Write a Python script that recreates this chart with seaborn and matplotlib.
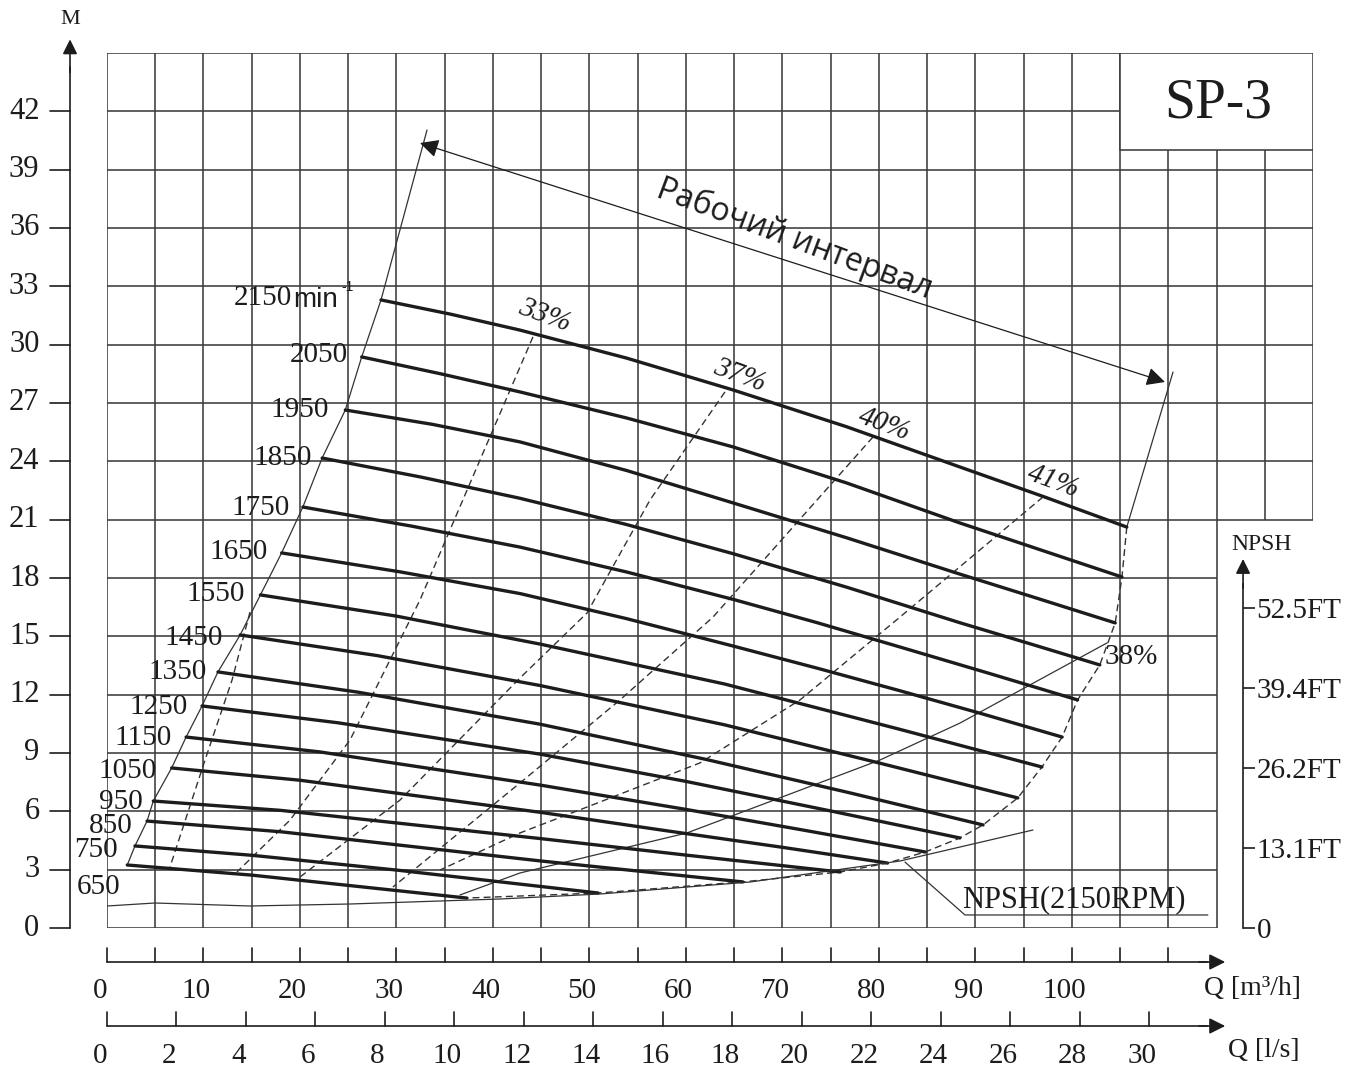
import numpy as np
import pandas as pd
import matplotlib
matplotlib.use("Agg")
import matplotlib.pyplot as plt
import seaborn as sns
from matplotlib.patches import Rectangle

sns.set_theme(style="white")
plt.rcParams['font.family'] = ['Liberation Serif', 'DejaVu Serif']

# ---------------- data ----------------
speeds = [2150, 2050, 1950, 1850, 1750, 1650, 1550, 1450,
          1350, 1250, 1150, 1050, 950, 850, 750, 650]

# head curves: flow Q [m3/h], head H [m]
curve_q = {
    2150: [28.4, 35.6, 42.8, 53.85, 64.9, 76.65, 88.4, 97.05, 105.7],
    2050: [26.4, 34.6, 42.8, 53.85, 64.9, 76.65, 88.4, 96.8, 105.2],
    1950: [24.7, 33.75, 42.8, 53.85, 64.9, 76.65, 88.4, 96.45, 104.5],
    1850: [22.3, 32.55, 42.8, 53.85, 64.9, 76.65, 88.4, 95.65, 102.9],
    1750: [20.3, 31.55, 42.8, 53.85, 64.9, 73.55, 82.2, 91.4, 100.6],
    1650: [18.1, 30.45, 42.8, 53.85, 64.9, 73.55, 82.2, 90.6, 99.0],
    1550: [15.9, 30.0, 44.9, 64.0, 82.0, 96.9],
    1450: [13.8, 28.0, 44.9, 64.0, 80.0, 94.4],
    1350: [11.5, 26.0, 44.9, 62.0, 77.0, 90.8],
    1250: [9.85, 24.0, 44.9, 60.0, 75.0, 88.4],
    1150: [8.2, 22.0, 44.9, 60.0, 72.0, 84.8],
    1050: [6.7, 20.0, 44.9, 58.0, 70.0, 80.9],
    950:  [4.8, 18.0, 44.9, 60.0, 76.0],
    850:  [4.15, 18.0, 44.9, 65.9],
    750:  [2.9, 15.0, 30.0, 50.9],
    650:  [2.1, 15.0, 37.3],
}
curve_h = {
    2150: [32.3, 31.57, 30.75, 29.31, 27.67, 25.78, 23.71, 22.19, 20.62],
    2050: [29.37, 28.50, 27.57, 26.23, 24.74, 22.89, 20.83, 19.44, 18.05],
    1950: [26.64, 25.90, 25.0, 23.53, 21.86, 20.07, 18.2, 16.95, 15.69],
    1850: [24.17, 23.19, 22.1, 20.75, 19.25, 17.53, 15.7, 14.62, 13.53],
    1750: [21.65, 20.67, 19.59, 18.31, 16.9, 15.71, 14.45, 13.10, 11.73],
    1650: [19.29, 18.31, 17.2, 15.91, 14.5, 13.37, 12.2, 11.03, 9.82],
    1550: [17.13, 16.04, 14.6, 12.55, 10.24, 8.28],
    1450: [15.07, 14.01, 12.47, 10.45, 8.49, 6.69],
    1350: [13.17, 12.13, 10.48, 8.68, 6.95, 5.30],
    1250: [11.42, 10.55, 8.94, 7.54, 6.02, 4.63],
    1150: [9.82, 9.06, 7.35, 6.1, 5.05, 3.91],
    1050: [8.23, 7.6, 5.95, 5.0, 4.15, 3.34],
    950:  [6.53, 6.05, 4.6, 3.75, 2.88],
    850:  [5.5, 4.95, 3.45, 2.37],
    750:  [4.22, 3.74, 2.98, 1.80],
    650:  [3.24, 2.72, 1.54],
}

# efficiency iso-lines
eff_names = ["33%", "37%", "40%", "41%"]
eff_q = {
    "base": [14.82, 12.96, 10.16, 6.53],
    "33%": [44.15, 38.66, 32.44, 25.19, 18.97, 13.47],
    "37%": [64.05, 56.28, 49.75, 42.81, 30.37, 20.0],
    "40%": [79.39, 62.81, 53.17, 42.81, 29.64],
    "41%": [97.02, 82.19, 71.83, 61.46, 49.75, 42.81, 34.51],
}
eff_h = {
    "base": [16.25, 12.75, 8.64, 3.14],
    "33%": [30.40, 24.07, 16.87, 9.67, 5.55, 2.88],
    "37%": [27.57, 22.01, 16.20, 12.86, 6.58, 2.62],
    "40%": [25.25, 15.99, 11.73, 7.46, 2.11],
    "41%": [22.17, 15.99, 11.73, 8.49, 6.22, 4.89, 2.98],
}
eff38_q = [103.65, 88.41, 80.12, 60.12, 42.81, 36.59]
eff38_h = [14.66, 10.54, 8.64, 4.89, 2.83, 1.70]

# NPSH at 2150 rpm, metres
npsh_q = [0, 4.98, 14.82, 25.19, 40.73, 51.10, 66.65, 82.19, 95.98]
npsh_m = [1.10, 1.25, 1.10, 1.20, 1.45, 1.70, 2.30, 3.35, 4.90]

# operating range envelope
left_top = (33.17, 41.04)
right_top = (110.49, 28.59)

q_ticks = list(range(0, 101, 10))
ls_ticks = list(range(0, 31, 2))
h_ticks = list(range(0, 43, 3))
npsh_ticks = [0, 4, 8, 12, 16]
npsh_labels = ["0", "13.1FT", "26.2FT", "39.4FT", "52.5FT"]

# ---------------- figure ----------------
fig = plt.figure(figsize=(13.72, 10.75), dpi=100)
ax = fig.add_axes([107 / 1372, 1 - 928 / 1075, 1206 / 1372, 875 / 1075])
ax.set_xlim(0, 125)
ax.set_ylim(0, 45)
ax.axis('off')

GRID = '#3c3c3c'
INK = '#1c1c1c'
THIN = '#333333'
glw = 1.15

# grid
for q in range(0, 106, 5):
    ax.vlines(q, 0, 45, color=GRID, lw=glw, zorder=1)
for q in (110, 115):
    ax.vlines(q, 0, 40, color=GRID, lw=glw, zorder=1)
ax.vlines(120, 21, 40, color=GRID, lw=glw, zorder=1)
ax.vlines(125, 21, 45, color=GRID, lw=glw, zorder=1)
for h in range(0, 19, 3):
    ax.hlines(h, 0, 115, color=GRID, lw=glw, zorder=1)
for h in range(21, 40, 3):
    ax.hlines(h, 0, 125, color=GRID, lw=glw, zorder=1)
ax.hlines(42, 0, 105, color=GRID, lw=glw, zorder=1)
ax.hlines(45, 0, 125, color=GRID, lw=glw, zorder=1)
ax.add_patch(Rectangle((105, 40), 20, 5, fc='white', ec=GRID, lw=glw, zorder=2))
ax.text(115.2, 42.4, "SP-3", fontsize=40, ha='center', va='center', color=INK, zorder=3)

# head curves
rows = []
for s in speeds:
    for q, h in zip(curve_q[s], curve_h[s]):
        rows.append((s, q, h))
df = pd.DataFrame(rows, columns=["speed", "Q", "H"])
sns.lineplot(data=df, x="Q", y="H", units="speed", estimator=None, sort=False,
             color=INK, lw=2.4, ax=ax, legend=False, zorder=4)
for line in ax.lines:
    line.set_solid_joinstyle('round')

# efficiency lines
erows = []
for k in eff_q:
    for q, h in zip(eff_q[k], eff_h[k]):
        erows.append((k, q, h))
edf = pd.DataFrame(erows, columns=["eff", "Q", "H"])
sns.lineplot(data=edf, x="Q", y="H", units="eff", estimator=None, sort=False,
             color=THIN, lw=1.0, ax=ax, legend=False, zorder=3,
             dashes=False, linestyle=(0, (5, 3)))
sns.lineplot(x=eff38_q, y=eff38_h, sort=False, color=THIN, lw=0.9, ax=ax, zorder=3)

# envelope of the working range
lq = [left_top[0]] + [curve_q[s][0] for s in speeds]
lh = [left_top[1]] + [curve_h[s][0] for s in speeds]
ax.plot(lq, lh, color=THIN, lw=0.9, zorder=3)
ax.plot([right_top[0], curve_q[2150][-1]], [right_top[1], curve_h[2150][-1]],
        color=THIN, lw=0.9, zorder=3)
rq = [curve_q[s][-1] for s in speeds]
rh = [curve_h[s][-1] for s in speeds]
ax.plot(rq, rh, color=THIN, lw=1.0, ls=(0, (5, 3)), zorder=3)

# speed labels
lab_pos = {2150: (19.17, 32.40), 2050: (24.98, 29.47), 1950: (23.01, 26.64),
           1850: (21.25, 24.17), 1750: (18.97, 21.60), 1650: (16.69, 19.34),
           1550: (14.30, 17.18), 1450: (12.02, 14.91), 1350: (10.36, 13.17),
           1250: (8.40, 11.37), 1150: (6.74, 9.77), 1050: (5.18, 8.07),
           950: (3.73, 6.48), 850: (2.69, 5.25), 750: (1.14, 4.01), 650: (1.35, 2.11)}
for s in speeds:
    x, y = lab_pos[s]
    ax.text(x, y, str(s), fontsize=21, ha='right', va='center', color=INK, zorder=5)
ax.text(19.3, 32.3, "min", fontsize=20, ha='left', va='center', color=INK,
        family=['Liberation Sans', 'DejaVu Sans'], zorder=5)
ax.text(24.25, 32.95, "-1", fontsize=10, ha='left', va='center', color=INK,
        family=['Liberation Sans', 'DejaVu Sans'], zorder=5)

# efficiency labels
for txt, (x, y) in zip(eff_names, [(45.4, 31.5), (65.6, 28.4), (80.6, 25.9), (98.05, 22.94)]):
    ax.text(x, y, txt, fontsize=21, style='italic', rotation=-20, ha='center',
            va='center', color=INK, zorder=5)
ax.text(106.2, 13.94, "38%", fontsize=21, ha='center', va='center', color=INK, zorder=5)

# working range arrow
ax.annotate('', xy=(109.66, 28.08), xytext=(32.44, 40.37),
            arrowprops=dict(arrowstyle='<|-|>', color=INK, lw=0.9,
                            mutation_scale=28, shrinkA=0, shrinkB=0), zorder=5)
ax.text(71.3, 35.4, "Рабочий интервал", fontsize=23, rotation=-20.5,
        rotation_mode='anchor', ha='center', va='center', color=INK,
        family=['Open Sans', 'DejaVu Sans'], zorder=5)

# NPSH curve on its own scale
ax2 = ax.twinx()
ax2.set_ylim(0, 43.75)
ax2.set_xlim(0, 125)
sns.lineplot(x=npsh_q, y=npsh_m, sort=False, color=THIN, lw=0.9, ax=ax2)
for s in ['left', 'top', 'bottom']:
    ax2.spines[s].set_visible(False)
ax2.spines['right'].set_position(('data', 117.75))
ax2.spines['right'].set_bounds(0, 17.2)
ax2.spines['right'].set_color(INK)
ax2.spines['right'].set_linewidth(1.2)
ax2.set_yticks(npsh_ticks)
ax2.set_yticklabels(npsh_labels)
ax2.tick_params(axis='y', direction='out', length=8.6, width=1.2, pad=1,
                labelsize=21, colors=INK, right=True, left=False)
ax2.set_ylabel("")
ax2.set_xlabel("")
ax2.annotate('', xy=(117.75, 18.45), xytext=(117.75, 17.0),
             arrowprops=dict(arrowstyle='-|>', color=INK, lw=1.2, mutation_scale=22,
                             shrinkA=0, shrinkB=0), annotation_clip=False)
ax.text(119.7, 19.7, "NPSH", fontsize=17, ha='center', va='center', color=INK)

# NPSH leader
ax.plot([82.71, 88.93, 114.1], [3.39, 0.67, 0.67], color=THIN, lw=0.9, zorder=3)
ax.text(88.6, 1.44, "NPSH(2150RPM)", fontsize=22, ha='left', va='center', color=INK, zorder=5)

# left head axis
xl = -3.835
ax.plot([xl, xl], [0, 44.3], color=INK, lw=1.2, clip_on=False)
ax.annotate('', xy=(xl, 45.7), xytext=(xl, 44.0),
            arrowprops=dict(arrowstyle='-|>', color=INK, lw=1.2, mutation_scale=22,
                            shrinkA=0, shrinkB=0), annotation_clip=False)
for h in h_ticks:
    ax.plot([-5.91, xl], [h, h], color=INK, lw=1.2, clip_on=False)
    ax.text(-7.0, h, str(h), fontsize=22, ha='right', va='center', color=INK)
ax.text(xl, 46.7, "M", fontsize=16, ha='center', va='center', color=INK)

# flow axis, m3/h
y1, y1t, y1l = -1.749, -1.03, -3.25
ax.plot([0, 114.0], [y1, y1], color=INK, lw=1.2, clip_on=False)
ax.annotate('', xy=(115.9, y1), xytext=(113.2, y1),
            arrowprops=dict(arrowstyle='-|>', color=INK, lw=1.2, mutation_scale=24,
                            shrinkA=0, shrinkB=0), annotation_clip=False)
for q in range(0, 111, 5):
    ax.plot([q, q], [y1, y1t], color=INK, lw=1.2, clip_on=False)
for q in q_ticks:
    ax.text(q - 0.75, y1l, str(q), fontsize=21, ha='center', va='center', color=INK)
ax.text(113.7, -3.1, "Q [m³/h]", fontsize=20, ha='left', va='center', color=INK)

# flow axis, l/s
y2, y2t, y2l = -5.04, -4.32, -6.6
ax.plot([0, 114.0], [y2, y2], color=INK, lw=1.2, clip_on=False)
ax.annotate('', xy=(115.9, y2), xytext=(113.2, y2),
            arrowprops=dict(arrowstyle='-|>', color=INK, lw=1.2, mutation_scale=24,
                            shrinkA=0, shrinkB=0), annotation_clip=False)
for l in ls_ticks:
    q = l * 3.6
    ax.plot([q, q], [y2, y2t], color=INK, lw=1.2, clip_on=False)
    ax.text(q - 0.75, y2l, str(l), fontsize=21, ha='center', va='center', color=INK)
ax.text(116.2, -6.3, "Q [l/s]", fontsize=20, ha='left', va='center', color=INK)

fig.savefig("out.png", dpi=100)
